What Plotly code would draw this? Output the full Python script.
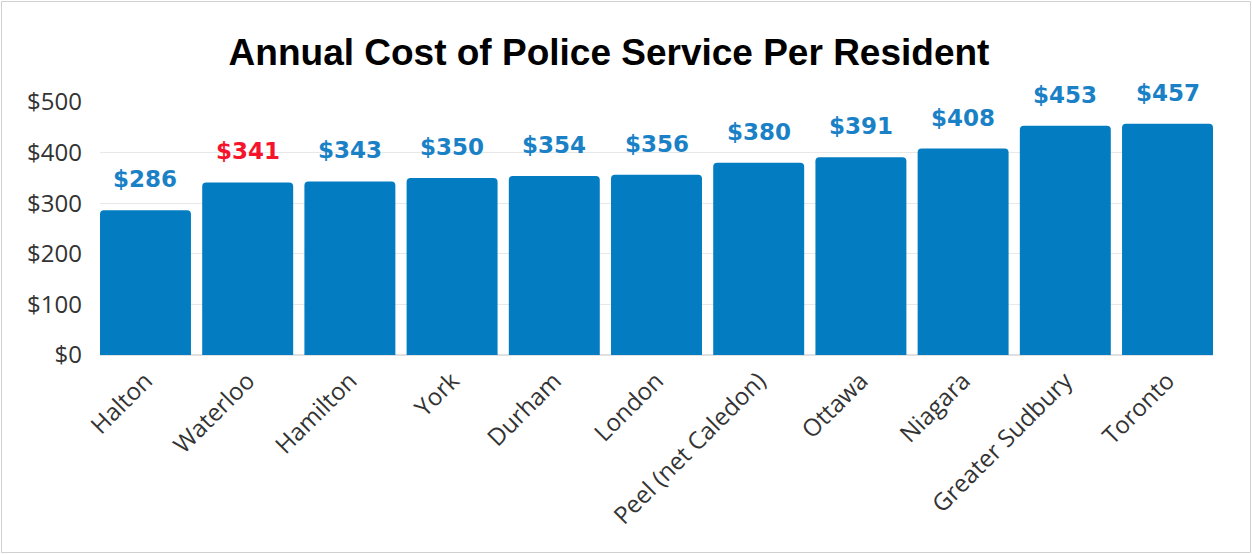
import plotly.graph_objects as go

regions = ["Halton", "Waterloo", "Hamilton", "York", "Durham", "London",
           "Peel (net Caledon)", "Ottawa", "Niagara", "Greater Sudbury", "Toronto"]
costs = [286, 341, 343, 350, 354, 356, 380, 391, 408, 453, 457]
highlight = "Waterloo"
y_ticks = [0, 100, 200, 300, 400, 500]
y_tick_labels = ["$0", "$100", "$200", "$300", "$400", "$500"]

BAR = "#037cc2"
LABEL_BLUE = "#1b81c6"
LABEL_RED = "#f5142b"
GAP = 0.11

fig = go.Figure()
fig.add_trace(go.Bar(
    x=list(range(len(regions))), y=costs,
    marker=dict(color=BAR, cornerradius=4, line=dict(width=0)),
    hoverinfo="skip",
))

annotations = []
for i, (r, v) in enumerate(zip(regions, costs)):
    annotations.append(dict(
        x=i, y=v, xref="x", yref="y", text=f"${v}", showarrow=False,
        yanchor="bottom", yshift=16,
        font=dict(family="DejaVu Sans", size=23, color=LABEL_RED if r == highlight else LABEL_BLUE,
                  weight="bold"),
    ))

# plot area: x 100..1213, y 102..355
L, R, T, B = 100, 1252 - 1213, 102, 554 - 355
pw, ph = 1252 - L - R, 554 - T - B

def px_x(p):
    return (p - L) / pw

def px_y(p):
    return (554 - B - p) / ph

fig.update_layout(
    width=1252, height=554,
    margin=dict(l=L, r=R, t=T, b=B),
    paper_bgcolor="white", plot_bgcolor="white",
    showlegend=False,
    bargap=GAP,
    title=dict(text="<b>Annual Cost of Police Service Per Resident</b>",
               x=px_x(609), xref="paper", xanchor="center",
               y=1 - 52 / 554, yref="container", yanchor="middle",
               font=dict(family="Liberation Sans", size=37, color="black")),
    xaxis=dict(tickangle=-45, showgrid=False, showline=False, ticks="",
               tickvals=list(range(len(regions))), ticktext=regions,
               range=[-0.5 + GAP / 2, len(regions) - 0.5 - GAP / 2],
               ticklabelstandoff=6,
               tickfont=dict(family="Open Sans", size=24, color="#333333")),
    yaxis=dict(range=[0, 500], tickvals=y_ticks, ticktext=y_tick_labels,
               showgrid=True, gridcolor="#e8e8e8", gridwidth=1,
               zeroline=True, zerolinecolor="#e0e0e0", showline=False, ticks="",
               ticklabelstandoff=17,
               tickfont=dict(family="Open Sans", size=24, color="#333333")),
    annotations=annotations,
    shapes=[dict(type="rect", xref="paper", yref="paper",
                 x0=px_x(1.5), x1=px_x(1250.5), y0=px_y(552.5), y1=px_y(1.5),
                 line=dict(color="#d0d0d0", width=1), layer="below")],
)

fig.write_html("out.html")
